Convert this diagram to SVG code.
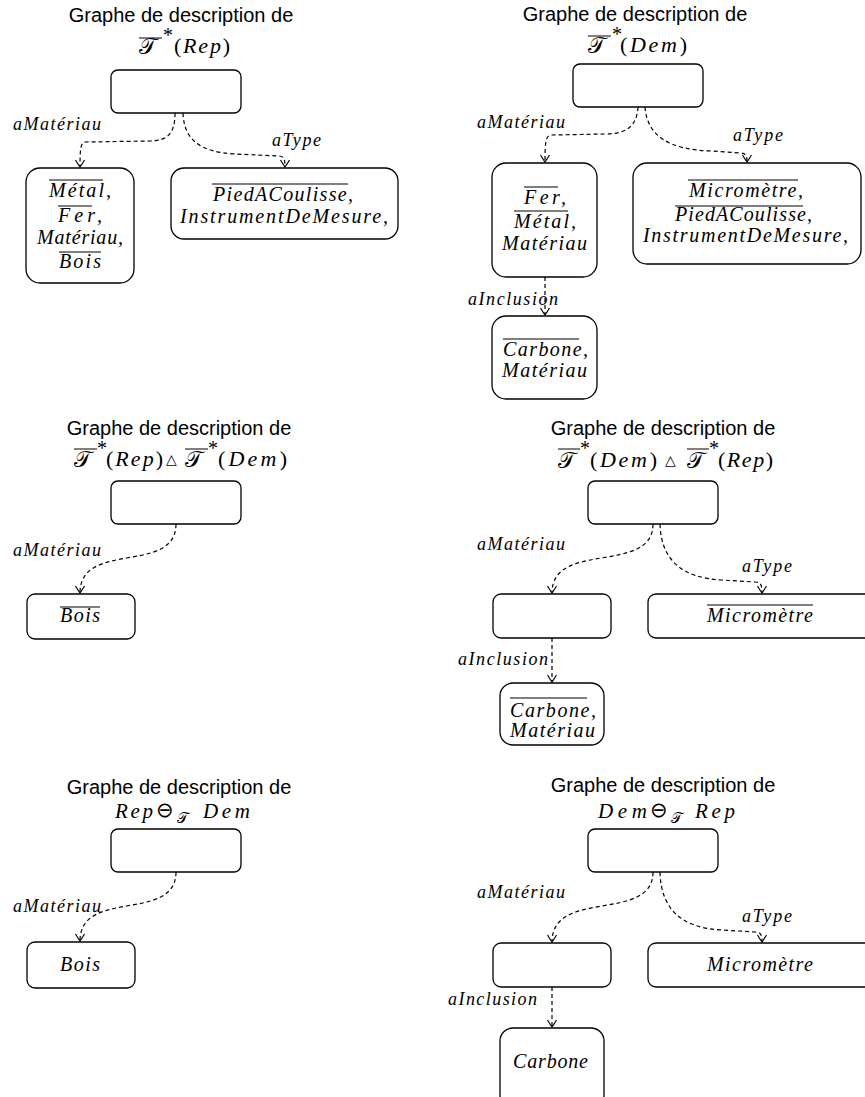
<svg xmlns="http://www.w3.org/2000/svg" width="865" height="1097" viewBox="0 0 865 1097">
<style>
.t{font-family:"Liberation Sans",Arial,sans-serif;font-size:20px;text-anchor:middle;fill:#000}
.m{font-family:"Liberation Serif","Times New Roman",serif;font-style:italic;font-size:22px;fill:#000}
.m2{font-family:"Liberation Serif","Times New Roman",serif;font-style:italic;font-size:21px;fill:#000}
.n{font-family:"Liberation Serif","Times New Roman",serif;font-style:italic;font-size:20px;fill:#000}
.lb{font-family:"Liberation Serif","Times New Roman",serif;font-style:italic;font-size:18px;fill:#000}
.up{font-style:normal}
.cal{font-family:"DejaVu Serif","DejaVu Sans","Noto Sans",serif;font-style:normal;font-size:23px}
.sym{font-family:"DejaVu Sans",sans-serif;font-style:normal}
.ast{font-family:"Liberation Serif",serif;font-size:20px}
.box{fill:#fff;stroke:#000;stroke-width:1.3}
.ol{stroke:#000;stroke-width:1;fill:none}
.e{fill:none;stroke:#000;stroke-width:1.2;stroke-dasharray:4 3;marker-end:url(#ah)}
</style>
<defs>
<marker id="ah" markerUnits="userSpaceOnUse" markerWidth="12" markerHeight="12" viewBox="-10 -6 12 12" refX="0" refY="0" orient="auto">
<path d="M-7,-4.5 Q-2,-1.5 0,0 Q-2,1.5 -7,4.5" fill="none" stroke="#000" stroke-width="1.2" stroke-dasharray="none"/>
</marker>
</defs>
<rect width="865" height="1097" fill="#fff"/>

<!-- Panel 1 -->
<g id="title1">
<text class="t" x="181" y="22">Graphe de description de</text>
<text class="cal" x="139" y="54">𝒯</text>
<line class="ol" x1="139" y1="38" x2="162" y2="38"/>
<text class="ast" x="163" y="42">*</text>
<text class="m" x="174" y="53" textLength="56" lengthAdjust="spacing"><tspan class="up">(</tspan>Rep<tspan class="up">)</tspan></text>
</g>
<g id="p1-root"><rect class="box" x="111" y="70" width="130" height="43" rx="7"/></g>
<g id="p1-materiau">
<rect class="box" x="26" y="168" width="108" height="115" rx="14"/>
<text class="n" x="49" y="197" textLength="62" lengthAdjust="spacing">Métal,</text>
<line class="ol" x1="49" y1="180" x2="103" y2="180"/>
<text class="n" x="58" y="222" textLength="44" lengthAdjust="spacing">Fer,</text>
<line class="ol" x1="58" y1="206" x2="92" y2="206"/>
<text class="n" x="37" y="244" textLength="86" lengthAdjust="spacing">Matériau,</text>
<text class="n" x="59" y="268" textLength="42" lengthAdjust="spacing">Bois</text>
<line class="ol" x1="59" y1="252" x2="101" y2="252"/>
</g>
<g id="p1-type">
<rect class="box" x="171" y="168" width="227" height="71" rx="13"/>
<text class="n" x="213" y="201" textLength="140" lengthAdjust="spacing">PiedACoulisse,</text>
<line class="ol" x1="212" y1="184" x2="348" y2="184"/>
<text class="n" x="180" y="223" textLength="208" lengthAdjust="spacing">InstrumentDeMesure,</text>
</g>

<!-- Panel 2 -->
<g id="title2">
<text class="t" x="635" y="21">Graphe de description de</text>
<text class="cal" x="588" y="53">𝒯</text>
<line class="ol" x1="588" y1="36" x2="611" y2="36"/>
<text class="ast" x="612" y="41">*</text>
<text class="m" x="620" y="52" textLength="67" lengthAdjust="spacing"><tspan class="up">(</tspan>Dem<tspan class="up">)</tspan></text>
</g>
<g id="p2-root"><rect class="box" x="573" y="64" width="130" height="43" rx="7"/></g>
<g id="p2-materiau">
<rect class="box" x="492" y="163" width="105" height="114" rx="14"/>
<text class="n" x="524" y="204" textLength="42" lengthAdjust="spacing">Fer,</text>
<line class="ol" x1="524" y1="187" x2="558" y2="187"/>
<text class="n" x="514" y="228" textLength="62" lengthAdjust="spacing">Métal,</text>
<line class="ol" x1="514" y1="211" x2="568" y2="211"/>
<text class="n" x="502" y="250" textLength="85" lengthAdjust="spacing">Matériau</text>
</g>
<g id="p2-carbone">
<rect class="box" x="492" y="316" width="105" height="83" rx="14"/>
<text class="n" x="503" y="356" textLength="85" lengthAdjust="spacing">Carbone,</text>
<line class="ol" x1="503" y1="339" x2="579" y2="339"/>
<text class="n" x="502" y="377" textLength="85" lengthAdjust="spacing">Matériau</text>
</g>
<g id="p2-type">
<rect class="box" x="633" y="163" width="228" height="101" rx="14"/>
<text class="n" x="689" y="197" textLength="114" lengthAdjust="spacing">Micromètre,</text>
<line class="ol" x1="688" y1="180" x2="798" y2="180"/>
<text class="n" x="675" y="221" textLength="137" lengthAdjust="spacing">PiedACoulisse,</text>
<line class="ol" x1="675" y1="206" x2="803" y2="206"/>
<text class="n" x="643" y="242" textLength="205" lengthAdjust="spacing">InstrumentDeMesure,</text>
</g>

<!-- Panel 3 -->
<g id="title3">
<text class="t" x="179" y="435">Graphe de description de</text>
<text class="cal" x="74" y="467">𝒯</text>
<line class="ol" x1="74" y1="449" x2="97" y2="449"/>
<text class="ast" x="97" y="455">*</text>
<text class="m" x="106" y="466" textLength="57" lengthAdjust="spacing"><tspan class="up">(</tspan>Rep<tspan class="up">)</tspan></text>
<text class="sym" x="166" y="464" style="font-size:14px">△</text>
<text class="cal" x="185" y="467">𝒯</text>
<line class="ol" x1="185" y1="449" x2="208" y2="449"/>
<text class="ast" x="208" y="455">*</text>
<text class="m" x="218" y="466" textLength="69" lengthAdjust="spacing"><tspan class="up">(</tspan>Dem<tspan class="up">)</tspan></text>
</g>
<g id="p3-root"><rect class="box" x="111" y="481" width="130" height="43" rx="7"/></g>
<g id="p3-bois">
<rect class="box" x="27" y="594" width="108" height="45" rx="8"/>
<text class="n" x="60" y="622" textLength="40" lengthAdjust="spacing">Bois</text>
<line class="ol" x1="60" y1="607" x2="100" y2="607"/>
</g>

<!-- Panel 4 -->
<g id="title4">
<text class="t" x="663" y="435">Graphe de description de</text>
<text class="cal" x="558" y="468">𝒯</text>
<line class="ol" x1="558" y1="449" x2="580" y2="449"/>
<text class="ast" x="580" y="455">*</text>
<text class="m" x="590" y="467" textLength="67" lengthAdjust="spacing"><tspan class="up">(</tspan>Dem<tspan class="up">)</tspan></text>
<text class="sym" x="665" y="465" style="font-size:14px">△</text>
<text class="cal" x="687" y="468">𝒯</text>
<line class="ol" x1="687" y1="449" x2="709" y2="449"/>
<text class="ast" x="709" y="455">*</text>
<text class="m" x="718" y="467" textLength="55" lengthAdjust="spacing"><tspan class="up">(</tspan>Rep<tspan class="up">)</tspan></text>
</g>
<g id="p4-root"><rect class="box" x="588" y="481" width="130" height="43" rx="7"/></g>
<g id="p4-materiau"><rect class="box" x="493" y="594" width="118" height="44" rx="8"/></g>
<g id="p4-type">
<rect class="box" x="648" y="594" width="240" height="44" rx="8"/>
<text class="n" x="707" y="622" textLength="106" lengthAdjust="spacing">Micromètre</text>
<line class="ol" x1="707" y1="605" x2="813" y2="605"/>
</g>
<g id="p4-carbone">
<rect class="box" x="500" y="683" width="104" height="62" rx="13"/>
<text class="n" x="510" y="717" textLength="86" lengthAdjust="spacing">Carbone,</text>
<line class="ol" x1="510" y1="698" x2="587" y2="698"/>
<text class="n" x="510" y="737" textLength="85" lengthAdjust="spacing">Matériau</text>
</g>

<!-- Panel 5 -->
<g id="title5">
<text class="t" x="179" y="794">Graphe de description de</text>
<text class="m2" x="115" y="818" textLength="38" lengthAdjust="spacing">Rep</text>
<text class="sym" x="156" y="817" style="font-size:21px">⊖</text>
<text class="cal" x="177" y="823" style="font-size:15px">𝒯</text>
<text class="m2" x="203" y="818" textLength="47" lengthAdjust="spacing">Dem</text>
</g>
<g id="p5-root"><rect class="box" x="111" y="829" width="130" height="43" rx="7"/></g>
<g id="p5-bois">
<rect class="box" x="27" y="942" width="108" height="46" rx="8"/>
<text class="n" x="60" y="971" textLength="40" lengthAdjust="spacing">Bois</text>
</g>

<!-- Panel 6 -->
<g id="title6">
<text class="t" x="663" y="792">Graphe de description de</text>
<text class="m2" x="598" y="818" textLength="49" lengthAdjust="spacing">Dem</text>
<text class="sym" x="650" y="817" style="font-size:21px">⊖</text>
<text class="cal" x="671" y="823" style="font-size:15px">𝒯</text>
<text class="m2" x="695" y="818" textLength="40" lengthAdjust="spacing">Rep</text>
</g>
<g id="p6-root"><rect class="box" x="588" y="829" width="130" height="43" rx="7"/></g>
<g id="p6-materiau"><rect class="box" x="493" y="943" width="118" height="44" rx="8"/></g>
<g id="p6-type">
<rect class="box" x="648" y="943" width="240" height="44" rx="8"/>
<text class="n" x="707" y="971" textLength="106" lengthAdjust="spacing">Micromètre</text>
</g>
<g id="p6-carbone">
<rect class="box" x="500" y="1028" width="104" height="80" rx="13"/>
<text class="n" x="513" y="1068" textLength="75" lengthAdjust="spacing">Carbone</text>
</g>

<g id="connectors">
<path class="e" d="M175,113 C175,133 168,141 150,141 L86,142 C81,142 80,146 80,167"/>
<path class="e" d="M183,113 C184,140 200,152 235,154 L279,156 C284,156 285,159 285,167"/>
<path class="e" d="M638,107 C637,125 628,134 605,134 L552,135 C546,135 545,140 545,162"/>
<path class="e" d="M645,107 C647,135 668,150 712,151 L740,153 C746,153 747,156 747,162"/>
<path class="e" d="M545,277 L545,315"/>
<path class="e" d="M176,524 C176,575 80,540 80,593"/>
<path class="e" d="M653,524 C653,575 552,540 552,593"/>
<path class="e" d="M660,524 C661,560 682,578 722,580 L755,582 C761,582 762,585 762,593"/>
<path class="e" d="M552,638 L552,682"/>
<path class="e" d="M176,872 C176,923 80,888 80,941"/>
<path class="e" d="M653,872 C653,923 552,888 552,942"/>
<path class="e" d="M660,872 C661,910 682,928 722,930 L755,932 C761,932 762,935 762,942"/>
<path class="e" d="M552,987 L552,1027"/>
<text class="lb" x="13" y="130" textLength="88" lengthAdjust="spacing">aMatériau</text>
<text class="lb" x="272" y="146" textLength="49" lengthAdjust="spacing">aType</text>
<text class="lb" x="477" y="128" textLength="88" lengthAdjust="spacing">aMatériau</text>
<text class="lb" x="733" y="141" textLength="50" lengthAdjust="spacing">aType</text>
<text class="lb" x="468" y="305" textLength="90" lengthAdjust="spacing">aInclusion</text>
<text class="lb" x="13" y="556" textLength="88" lengthAdjust="spacing">aMatériau</text>
<text class="lb" x="477" y="550" textLength="88" lengthAdjust="spacing">aMatériau</text>
<text class="lb" x="742" y="572" textLength="50" lengthAdjust="spacing">aType</text>
<text class="lb" x="458" y="665" textLength="90" lengthAdjust="spacing">aInclusion</text>
<text class="lb" x="13" y="912" textLength="88" lengthAdjust="spacing">aMatériau</text>
<text class="lb" x="477" y="898" textLength="88" lengthAdjust="spacing">aMatériau</text>
<text class="lb" x="742" y="922" textLength="50" lengthAdjust="spacing">aType</text>
<text class="lb" x="448" y="1005" textLength="89" lengthAdjust="spacing">aInclusion</text>
</g>
</svg>
